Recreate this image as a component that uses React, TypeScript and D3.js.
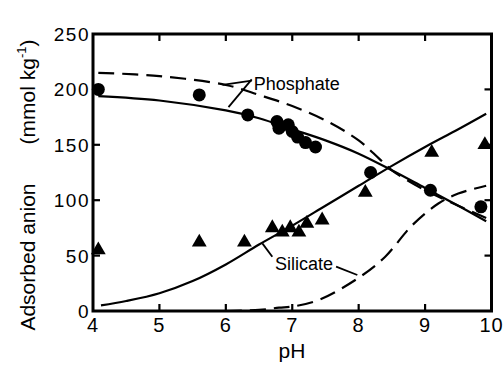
import React, { useEffect, useRef } from 'react';
import * as d3 from 'd3';

// measured points (pH, mmol/kg)
const phosphatePH = [4.08, 5.6, 6.33, 6.77, 6.8, 6.94, 7.0, 7.08, 7.2, 7.35, 8.18, 9.08, 9.84];
const phosphateVal = [200, 195, 177, 171, 165, 168, 162, 157, 152, 148, 125, 109, 94];
const silicatePH = [4.08, 5.6, 6.28, 6.7, 6.85, 6.97, 7.1, 7.22, 7.45, 8.1, 9.1, 9.9];
const silicateVal = [55, 62, 62, 75, 71, 75, 71, 79, 82, 107, 143, 150];

// model curves
const phosSolidPH = [4.08, 5, 6, 6.5, 7, 7.5, 8, 8.5, 9, 9.5, 9.92];
const phosSolidVal = [194, 190, 181, 174, 164, 154, 142, 127, 111, 95, 81];
const phosDashPH = [4.08, 5, 6, 6.5, 7, 7.5, 8, 8.3, 8.5, 9, 9.5, 9.92];
const phosDashVal = [215, 212, 204, 195, 185, 172, 154, 138, 127, 109, 95, 84];
const silSolidPH = [4.12, 4.5, 5, 5.5, 6, 6.5, 7, 7.5, 8, 8.5, 9, 9.5, 9.92];
const silSolidVal = [5, 9, 16, 27, 42, 60, 77, 95, 113, 131, 148, 164, 178];
const silDashPH = [6.0, 6.5, 6.8, 7.0, 7.4, 8.0, 8.4, 8.8, 9.2, 9.5, 9.92];
const silDashVal = [0, 1, 3, 4, 10, 30, 49, 77, 97, 106, 113];

const xTicks = [4, 5, 6, 7, 8, 9, 10];
const yTicks = [0, 50, 100, 150, 200, 250];

export default function App() {
  const svgRef = useRef<SVGSVGElement>(null);
  const width = 503;
  const height = 365;

  useEffect(() => {
    const svg = d3.select(svgRef.current);
    svg.selectAll('*').remove();

    const x = d3.scaleLinear().domain([4, 10]).range([93, 491.5]);
    const y = d3.scaleLinear().domain([0, 250]).range([311, 34]);
    const font = '"Liberation Sans", Arial, sans-serif';

    const curve = (px: number[], py: number[], dashed: boolean) => {
      const line = d3
        .line<number>()
        .x((d, i) => x(px[i]))
        .y((d) => y(d))
        .curve(d3.curveCatmullRom);
      svg
        .append('path')
        .attr('d', line(py))
        .attr('fill', 'none')
        .attr('stroke', '#000')
        .attr('stroke-width', 2.2)
        .attr('stroke-dasharray', dashed ? '16,8' : null);
    };
    curve(phosSolidPH, phosSolidVal, false);
    curve(phosDashPH, phosDashVal, true);
    curve(silSolidPH, silSolidVal, false);
    curve(silDashPH, silDashVal, true);

    // frame
    svg
      .append('rect')
      .attr('x', x(4))
      .attr('y', y(250))
      .attr('width', x(10) - x(4))
      .attr('height', y(0) - y(250))
      .attr('fill', 'none')
      .attr('stroke', '#000')
      .attr('stroke-width', 3);

    const tl = 7;
    xTicks.slice(1, -1).forEach((t) => {
      svg.append('line').attr('x1', x(t)).attr('x2', x(t)).attr('y1', y(0)).attr('y2', y(0) - tl)
        .attr('stroke', '#000').attr('stroke-width', 2.2);
      svg.append('line').attr('x1', x(t)).attr('x2', x(t)).attr('y1', y(250)).attr('y2', y(250) + tl)
        .attr('stroke', '#000').attr('stroke-width', 2.2);
    });
    yTicks.slice(1, -1).forEach((t) => {
      svg.append('line').attr('x1', x(4)).attr('x2', x(4) + tl).attr('y1', y(t)).attr('y2', y(t))
        .attr('stroke', '#000').attr('stroke-width', 2.2);
      svg.append('line').attr('x1', x(10)).attr('x2', x(10) - tl).attr('y1', y(t)).attr('y2', y(t))
        .attr('stroke', '#000').attr('stroke-width', 2.2);
    });

    svg
      .selectAll('.xl')
      .data(xTicks)
      .join('text')
      .attr('x', (d) => x(d))
      .attr('y', 332)
      .attr('text-anchor', 'middle')
      .attr('font-family', font)
      .attr('font-size', 20)
      .attr('letter-spacing', 1)
      .text((d) => d);
    svg
      .selectAll('.yl')
      .data(yTicks)
      .join('text')
      .attr('x', 90)
      .attr('y', (d) => y(d) + 7)
      .attr('text-anchor', 'end')
      .attr('font-family', font)
      .attr('font-size', 19)
      .attr('letter-spacing', 1.5)
      .text((d) => d);

    // points
    svg
      .selectAll('.pc')
      .data(phosphatePH)
      .join('circle')
      .attr('cx', (d) => x(d))
      .attr('cy', (d, i) => y(phosphateVal[i]))
      .attr('r', 6.5)
      .attr('fill', '#000');
    const tri = d3.symbol().type(d3.symbolTriangle).size(95);
    svg
      .selectAll('.st')
      .data(silicatePH)
      .join('path')
      .attr('d', tri)
      .attr('transform', (d, i) => `translate(${x(d)},${y(silicateVal[i])})`)
      .attr('fill', '#000');

    // curve labels with leaders
    const leader = (a: number[], b: number[]) =>
      svg.append('line').attr('x1', x(a[0])).attr('y1', y(a[1])).attr('x2', x(b[0])).attr('y2', y(b[1]))
        .attr('stroke', '#000').attr('stroke-width', 1.8);
    leader([6.39, 209], [6.04, 184]);
    leader([6.39, 208], [5.95, 204]);
    svg.append('text').attr('x', x(6.42)).attr('y', y(199.5)).attr('font-family', font)
      .attr('font-size', 18).text('Phosphate');
    leader([6.7, 49], [6.55, 61]);
    leader([7.66, 40], [7.98, 32.5]);
    svg.append('text').attr('x', x(6.74)).attr('y', y(37)).attr('font-family', font)
      .attr('font-size', 18).text('Silicate');

    // axis titles
    svg.append('text').attr('x', 292).attr('y', 358).attr('text-anchor', 'middle')
      .attr('font-family', font).attr('font-size', 21).text('pH');
    svg.append('text').attr('transform', 'translate(35,257) rotate(-90)').attr('text-anchor', 'middle')
      .attr('font-family', font).attr('font-size', 21).text('Adsorbed  anion');
    const unit = svg.append('text').attr('transform', 'translate(35,92) rotate(-90)')
      .attr('text-anchor', 'middle').attr('font-family', font).attr('font-size', 21);
    unit.append('tspan').text('(mmol kg');
    unit.append('tspan').attr('font-size', 13).attr('dy', -9).text('-1');
    unit.append('tspan').attr('dy', 9).text(')');
  }, []);

  return (
    <svg
      ref={svgRef}
      width={width}
      height={height}
      style={{ position: 'absolute', left: 0, top: 0, background: '#fff' }}
    ></svg>
  );
}
